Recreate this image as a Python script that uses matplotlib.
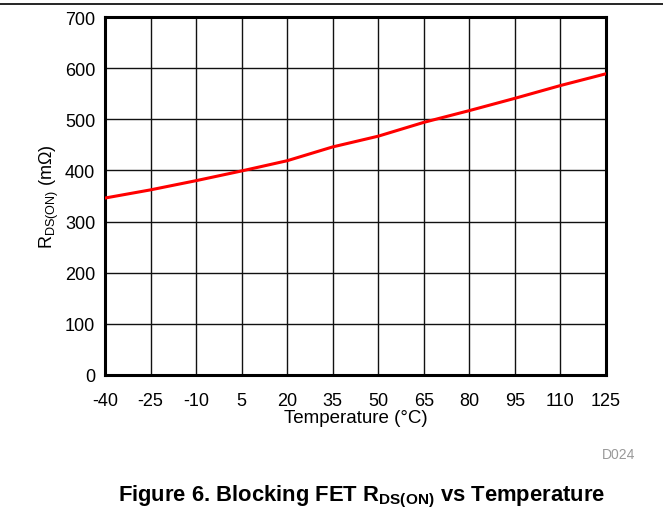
import matplotlib
matplotlib.use("Agg")
import matplotlib.pyplot as plt
from matplotlib.lines import Line2D

plt.rcParams['font.family'] = ['Liberation Sans', 'DejaVu Sans']

temperature = [-40, -25, -10, 5, 20, 35, 50, 65, 80, 95, 110, 125]
rdson = [346, 362, 380, 399, 419, 446, 467, 494, 517, 541, 566, 589]
xticks = [-40, -25, -10, 5, 20, 35, 50, 65, 80, 95, 110, 125]
yticks = [0, 100, 200, 300, 400, 500, 600, 700]

W, H = 663, 510
fig = plt.figure(figsize=(W / 100, H / 100), dpi=100)
ax = fig.add_axes([105 / W, 1 - 376 / H, (606 - 105) / W, (376 - 18) / H])

ax.plot(temperature, rdson, color='#ff0000', linewidth=2.2, zorder=3)
ax.set_xlim(-40, 125)
ax.set_ylim(0, 700)
ax.set_xticks(xticks)
ax.set_yticks(yticks)
ax.set_xticklabels([str(v) for v in xticks], fontsize=13)
ax.set_yticklabels([str(v) for v in yticks], fontsize=13)
ax.tick_params(axis='x', length=0, pad=12)
ax.tick_params(axis='y', length=0, pad=7)
ax.grid(True, color='#111111', linewidth=1.0)
for s in ax.spines.values():
    s.set_linewidth(2.2)
    s.set_color('black')

ax.set_xlabel('Temperature (°C)', fontsize=13.5, labelpad=0)
ax.set_ylabel(r'R$_{\mathregular{DS(ON)}}$ (mΩ)', fontsize=13, labelpad=3)

fig.text(619 / W, 1 - 455 / H, 'D024', fontsize=10, color='#999999', ha='center', va='center')
fig.text(362 / W, 1 - 497 / H, r'Figure 6. Blocking FET R$_{\mathregular{DS(ON)}}$ vs Temperature',
         fontsize=15.8, fontweight='bold', ha='center', va='center')
fig.add_artist(Line2D([0, 1], [1 - 5 / H, 1 - 5 / H], color='black', linewidth=1.2,
                      transform=fig.transFigure))

fig.savefig('out.png', dpi=100)
